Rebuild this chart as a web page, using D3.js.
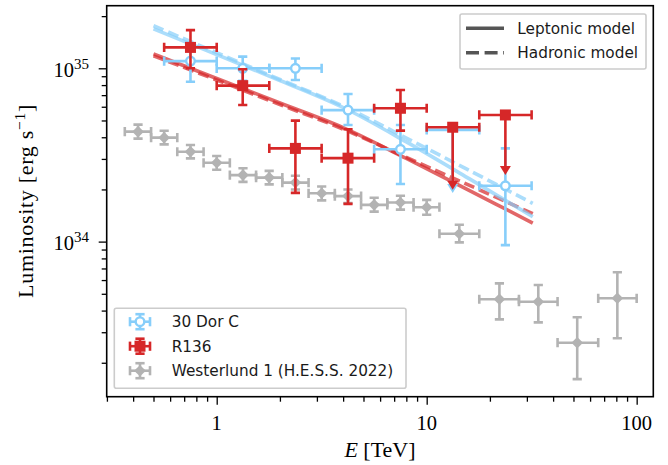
<!DOCTYPE html>
<html><head><meta charset="utf-8">
<script src="https://cdn.jsdelivr.net/npm/d3@7/dist/d3.min.js"></script>
<style>body{margin:0;background:#fff} svg{display:block}</style>
</head><body>
<svg id="chart" width="668" height="465"></svg>
<script>
// ---------- data ----------
// 30 Dor C (points with error bars)
const dorE    = [0.75, 1.33, 2.37, 4.22, 7.5, 23.7];
const dorElo  = [0.562, 1.0, 1.78, 3.16, 5.62, 17.8];
const dorEhi  = [1.0, 1.78, 3.16, 5.62, 10.0, 31.6];
const dorL    = [1.10e35, 1.00e35, 1.00e35, 5.74e34, 3.41e34, 2.10e34];
const dorLlo  = [8.37e34, 8.48e34, 8.56e34, 4.71e34, 2.15e34, 9.55e33];
const dorLhi  = [1.36e35, 1.167e35, 1.14e35, 7.11e34, 4.71e34, 3.45e34];
// 30 Dor C upper limit
const dorUlE   = [13.3];
const dorUlElo = [10.0];
const dorUlEhi = [17.8];
const dorUlL   = [4.41e34];
const dorUlTip = [1.91e34];

// R136
const r136E   = [0.75, 1.33, 2.37, 4.22, 7.5];
const r136Elo = [0.562, 1.0, 1.78, 3.16, 5.62];
const r136Ehi = [1.0, 1.78, 3.16, 5.62, 10.0];
const r136L   = [1.32e35, 7.94e34, 3.45e34, 3.03e34, 5.88e34];
const r136Llo = [1.0e35, 6.14e34, 1.91e34, 1.65e34, 4.37e34];
const r136Lhi = [1.66e35, 9.87e34, 4.99e34, 4.45e34, 7.50e34];
// R136 upper limits
const r136UlE   = [13.3, 23.7];
const r136UlElo = [10.0, 17.8];
const r136UlEhi = [17.8, 31.6];
const r136UlL   = [4.57e34, 5.38e34];
const r136UlTip = [1.99e34, 2.42e34];

// Westerlund 1 (H.E.S.S. 2022)
const wdE   = [0.422, 0.562, 0.750, 1.0, 1.334, 1.778, 2.371, 3.162, 4.217, 5.623, 7.499, 10.0, 14.3, 22.2, 34.0, 52.1, 80.9];
const wdElo = [0.365, 0.487, 0.649, 0.866, 1.155, 1.540, 2.054, 2.738, 3.652, 4.870, 6.494, 8.660, 11.5, 17.8, 27.5, 42.0, 65.6];
const wdEhi = [0.487, 0.649, 0.866, 1.155, 1.540, 2.054, 2.738, 3.652, 4.870, 6.494, 8.660, 11.5, 17.8, 27.5, 42.0, 65.6, 100.0];
const wdL   = [4.31e34, 3.98e34, 3.30e34, 2.85e34, 2.42e34, 2.34e34, 2.19e34, 1.90e34, 1.83e34, 1.63e34, 1.68e34, 1.58e34, 1.11e34, 4.65e33, 4.50e33, 2.61e33, 4.71e33];
const wdLlo = [3.93e34, 3.64e34, 3.02e34, 2.60e34, 2.21e34, 2.14e34, 2.00e34, 1.73e34, 1.67e34, 1.49e34, 1.53e34, 1.43e34, 9.90e33, 3.56e33, 3.42e33, 1.61e33, 2.77e33];
const wdLhi = [4.73e34, 4.36e34, 3.61e34, 3.12e34, 2.65e34, 2.56e34, 2.40e34, 2.08e34, 2.00e34, 1.79e34, 1.84e34, 1.74e34, 1.25e34, 5.74e33, 5.62e33, 3.66e33, 6.65e33];

// model curves
const modelE    = [0.5, 1, 2, 4, 8, 16, 32];
const dorLep    = [1.69e35, 1.20e35, 8.50e34, 5.94e34, 3.76e34, 2.30e34, 1.39e34];
const dorHad    = [1.76e35, 1.23e35, 8.62e34, 6.06e34, 3.96e34, 2.57e34, 1.66e34];
const r136Lep   = [1.21e35, 8.73e34, 6.31e34, 4.55e34, 3.02e34, 1.97e34, 1.28e34];
const r136Had   = [1.18e35, 8.56e34, 6.18e34, 4.46e34, 3.06e34, 2.11e34, 1.45e34];

// ticks & labels
const xMajor = [1, 10, 100];
const xMajorLabels = ["1", "10", "100"];
const xMinor = [0.3,0.4,0.5,0.6,0.7,0.8,0.9,2,3,4,5,6,7,8,9,20,30,40,50,60,70,80,90];
const yMajor = [1e34, 1e35];
const yMajorExp = ["34", "35"];
const yMinor = [2e33,3e33,4e33,5e33,6e33,7e33,8e33,9e33,2e34,3e34,4e34,5e34,6e34,7e34,8e34,9e34,2e35];
const seriesNames = ["30 Dor C", "R136", "Westerlund 1 (H.E.S.S. 2022)"];
const modelNames = ["Leptonic model", "Hadronic model"];

// ---------- drawing ----------
const BLUE = "#87CEFA", RED = "#d62728", GRAY = "#b3b3b3";
const svg = d3.select("#chart");
const L = 106.7, R = 653.3, T = 5.7, B = 396.7;
const x = d3.scaleLog().domain([0.2993, 120.0]).range([L, R]);
const y = d3.scaleLog().domain([1.274e33, 2.297e35]).range([B, T]);
const serif = "'Liberation Serif', 'Times New Roman', serif";
const sans = "'DejaVu Sans', sans-serif";

const plot = svg.append("g");
svg.append("defs").append("clipPath").attr("id","clip")
  .append("rect").attr("x",L).attr("y",T).attr("width",R-L).attr("height",B-T);
plot.attr("clip-path","url(#clip)");

// model lines
const lineGen = d3.line().x(d => x(d[0])).y(d => y(d[1])).curve(d3.curveCatmullRom.alpha(0.5));
function model(vals, color, dashed) {
  plot.append("path").datum(modelE.map((e,i)=>[e, vals[i]]))
    .attr("d", lineGen).attr("fill","none").attr("stroke",color)
    .attr("stroke-opacity",0.7).attr("stroke-width",3.6)
    .attr("stroke-dasharray", dashed ? "11,5" : null);
}
model(r136Lep, RED, false);
model(r136Had, RED, true);
model(dorLep, BLUE, false);
model(dorHad, BLUE, true);

const LW = 2.6, CAP = 4.6;
function errbars(g, color, E, Elo, Ehi, Lv, Llo, Lhi) {
  E.forEach((e,i) => {
    const cx = x(e), cy = y(Lv[i]);
    const x0 = x(Elo[i]), x1 = x(Ehi[i]);
    g.append("line").attr("x1",x0).attr("x2",x1).attr("y1",cy).attr("y2",cy)
      .attr("stroke",color).attr("stroke-width",LW);
    [x0,x1].forEach(xx => g.append("line").attr("x1",xx).attr("x2",xx)
      .attr("y1",cy-CAP).attr("y2",cy+CAP).attr("stroke",color).attr("stroke-width",LW));
    if (Llo) {
      const y0 = y(Llo[i]), y1 = y(Lhi[i]);
      g.append("line").attr("x1",cx).attr("x2",cx).attr("y1",y0).attr("y2",y1)
        .attr("stroke",color).attr("stroke-width",LW);
      [y0,y1].forEach(yy => g.append("line").attr("y1",yy).attr("y2",yy)
        .attr("x1",cx-CAP).attr("x2",cx+CAP).attr("stroke",color).attr("stroke-width",LW));
    }
  });
}
function ulArrows(g, color, E, Lv, Tip) {
  E.forEach((e,i) => {
    const cx = x(e), cy = y(Lv[i]), ty = y(Tip[i]);
    g.append("line").attr("x1",cx).attr("x2",cx).attr("y1",cy).attr("y2",ty-6)
      .attr("stroke",color).attr("stroke-width",LW);
    g.append("path").attr("d",`M${cx-5.5},${ty-9}L${cx+5.5},${ty-9}L${cx},${ty}Z`).attr("fill",color);
  });
}
function diamond(g, cx, cy, color) {
  g.append("path").attr("d",`M${cx},${cy-5.8}L${cx+5.8},${cy}L${cx},${cy+5.8}L${cx-5.8},${cy}Z`).attr("fill",color);
}
function circ(g, cx, cy) {
  g.append("circle").attr("cx",cx).attr("cy",cy).attr("r",4.3)
    .attr("fill","#fff").attr("stroke",BLUE).attr("stroke-width",2.4);
}
function sq(g, cx, cy) {
  g.append("rect").attr("x",cx-5.5).attr("y",cy-5.5).attr("width",11).attr("height",11).attr("fill",RED);
}

// Westerlund 1
const gW = plot.append("g");
errbars(gW, GRAY, wdE, wdElo, wdEhi, wdL, wdLlo, wdLhi);
wdE.forEach((e,i)=>diamond(gW, x(e), y(wdL[i]), GRAY));

// 30 Dor C
const gD = plot.append("g");
errbars(gD, BLUE, dorUlE, dorUlElo, dorUlEhi, dorUlL, null, null);
ulArrows(gD, BLUE, dorUlE, dorUlL, dorUlTip);
errbars(gD, BLUE, dorE, dorElo, dorEhi, dorL, dorLlo, dorLhi);
dorE.forEach((e,i)=>circ(gD, x(e), y(dorL[i])));

// R136
const gR = plot.append("g");
errbars(gR, RED, r136UlE, r136UlElo, r136UlEhi, r136UlL, null, null);
ulArrows(gR, RED, r136UlE, r136UlL, r136UlTip);
r136UlE.forEach((e,i)=>sq(gR, x(e), y(r136UlL[i])));
errbars(gR, RED, r136E, r136Elo, r136Ehi, r136L, r136Llo, r136Lhi);
r136E.forEach((e,i)=>sq(gR, x(e), y(r136L[i])));

// axes
const ax = svg.append("g");
const xAxis = d3.axisBottom(x).tickValues(xMajor).tickSize(8).tickFormat("");
const xAxisMinor = d3.axisBottom(x).tickValues(xMinor).tickSize(5).tickFormat("");
const yAxis = d3.axisLeft(y).tickValues(yMajor).tickSize(8).tickFormat("");
const yAxisMinor = d3.axisLeft(y).tickValues(yMinor.filter(v=>v>=1.274e33 && v<=2.297e35)).tickSize(5).tickFormat("");
[ [xAxis, `translate(0,${B})`], [xAxisMinor, `translate(0,${B})`], [yAxis, `translate(${L},0)`], [yAxisMinor, `translate(${L},0)`] ]
  .forEach(([a,t]) => {
    const g = ax.append("g").attr("transform", t).call(a);
    g.select(".domain").remove();
    g.selectAll(".tick line").attr("stroke","#000").attr("stroke-width",1.3);
  });
svg.append("rect").attr("x",L).attr("y",T).attr("width",R-L).attr("height",B-T)
  .attr("fill","none").attr("stroke","#000").attr("stroke-width",1.6);

// x tick labels
xMajor.forEach((v,i)=>{
  svg.append("text").attr("x",x(v)).attr("y",430).attr("text-anchor","middle")
    .attr("font-family",serif).attr("font-size",20.5).text(xMajorLabels[i]);
});
// y tick labels
yMajor.forEach((v,i)=>{
  const t = svg.append("text").attr("x",89).attr("y",y(v)+8.3).attr("text-anchor","end")
    .attr("font-family",serif).attr("font-size",20.5);
  t.append("tspan").text("10");
  t.append("tspan").attr("dy",-8).attr("font-size",15).text(yMajorExp[i]);
});
// axis labels
const xl = svg.append("text").attr("x",380).attr("y",457).attr("text-anchor","middle")
  .attr("font-family",serif).attr("font-size",22);
xl.append("tspan").attr("font-style","italic").text("E");
xl.append("tspan").text(" [TeV]");
const yl = svg.append("text").attr("transform","translate(33,201) rotate(-90)").attr("text-anchor","middle")
  .attr("font-family",serif).attr("font-size",22).attr("letter-spacing",0.7);
yl.append("tspan").text("Luminosity [erg s");
yl.append("tspan").attr("dy",-8.5).attr("font-size",15.5).text("\u22121");
yl.append("tspan").attr("dy",8.5).text("]");

// legend 1 (models)
const lg1 = svg.append("g");
lg1.append("rect").attr("x",460).attr("y",14).attr("width",186).attr("height",55).attr("rx",2)
  .attr("fill","#fff").attr("fill-opacity",0.8).attr("stroke","#cccccc").attr("stroke-width",1.6);
modelNames.forEach((n,i)=>{
  const yy = 28.3 + i*24.4;
  lg1.append("line").attr("x1",466).attr("x2",504).attr("y1",yy).attr("y2",yy)
    .attr("stroke","#555").attr("stroke-width",3.6).attr("stroke-dasharray", i ? "13,5.6" : null);
  lg1.append("text").attr("x",517.3).attr("y",yy+5.4).attr("font-family",sans).attr("font-size",15.3)
    .attr("fill","#1a1a1a").text(n);
});

// legend 2 (data)
const lg2 = svg.append("g");
lg2.append("rect").attr("x",114.3).attr("y",308.3).attr("width",291.7).attr("height",80).attr("rx",2)
  .attr("fill","#fff").attr("fill-opacity",0.8).attr("stroke","#cccccc").attr("stroke-width",1.6);
const colors = [BLUE, RED, GRAY];
seriesNames.forEach((n,i)=>{
  const cy = 321.7 + i*24.5, cx = 140;
  const c = colors[i];
  lg2.append("line").attr("x1",cx-10).attr("x2",cx+10).attr("y1",cy).attr("y2",cy).attr("stroke",c).attr("stroke-width",LW);
  lg2.append("line").attr("x1",cx).attr("x2",cx).attr("y1",cy-7.5).attr("y2",cy+7.5).attr("stroke",c).attr("stroke-width",LW);
  [cx-10,cx+10].forEach(xx=>lg2.append("line").attr("x1",xx).attr("x2",xx).attr("y1",cy-CAP).attr("y2",cy+CAP).attr("stroke",c).attr("stroke-width",LW));
  [cy-7.5,cy+7.5].forEach(yy=>lg2.append("line").attr("y1",yy).attr("y2",yy).attr("x1",cx-CAP).attr("x2",cx+CAP).attr("stroke",c).attr("stroke-width",LW));
  if (i===0) circ(lg2,cx,cy); else if (i===1) sq(lg2,cx,cy); else diamond(lg2,cx,cy,c);
  lg2.append("text").attr("x",171.7).attr("y",cy+5.4).attr("font-family",sans).attr("font-size",15.3)
    .attr("fill","#1a1a1a").text(n);
});
</script>
</body></html>
